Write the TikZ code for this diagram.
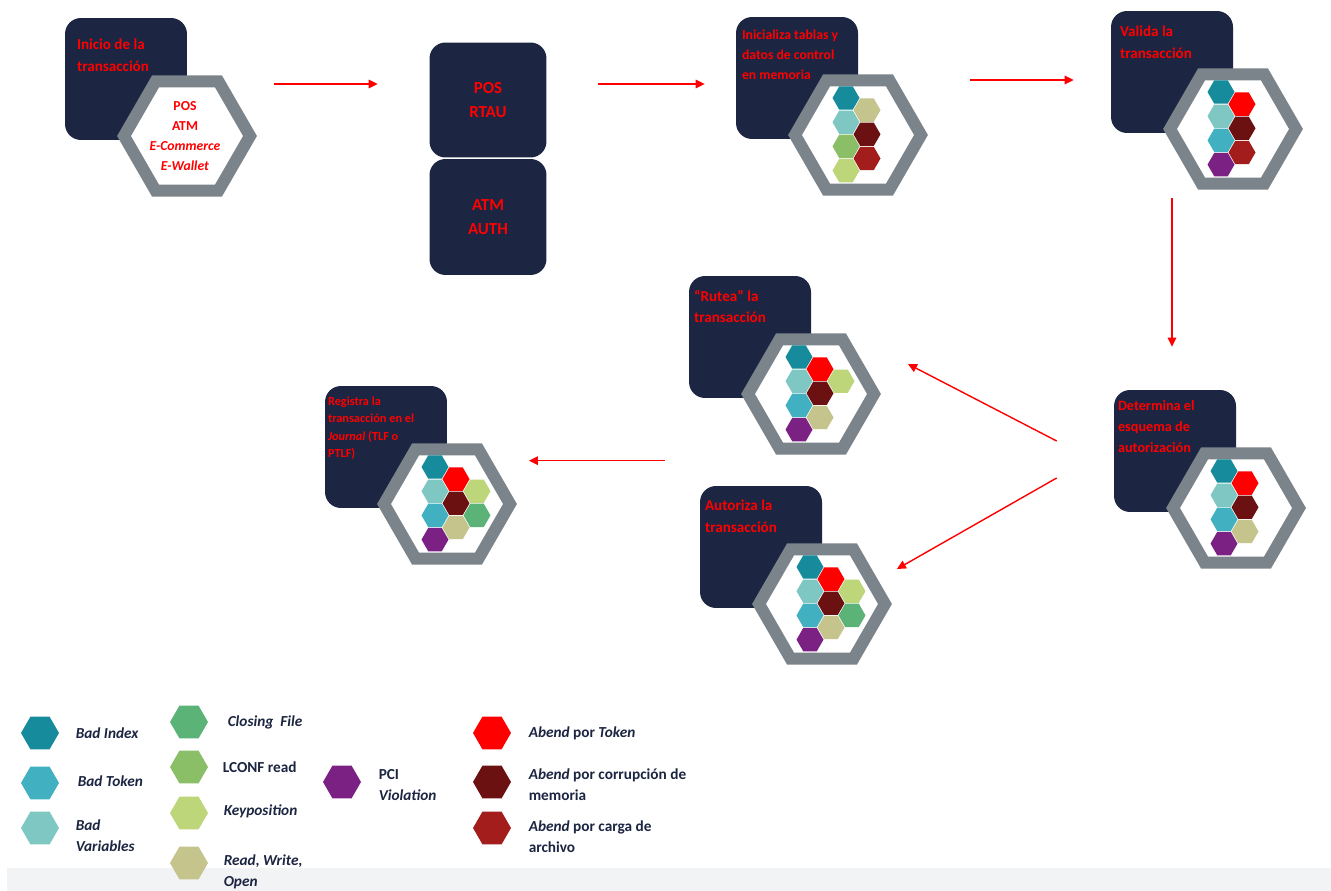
\documentclass[tikz,border=0pt]{standalone}
\usepackage{fontspec}
\setmainfont{Carlito}
\usetikzlibrary{shapes.geometric,arrows.meta,positioning}

\definecolor{navy}{HTML}{1C2541}
\definecolor{ringgray}{HTML}{7B838B}
\definecolor{bandgray}{HTML}{F2F3F5}
\definecolor{bidx}{HTML}{168B9C}
\definecolor{btok}{HTML}{41B1C1}
\definecolor{bvar}{HTML}{7FC7C3}
\definecolor{cfile}{HTML}{5BB377}
\definecolor{lconf}{HTML}{8ABF67}
\definecolor{keypos}{HTML}{BCD679}
\definecolor{rwo}{HTML}{C5C48D}
\definecolor{pci}{HTML}{7B2183}
\definecolor{abtok}{HTML}{FF0000}
\definecolor{abmem}{HTML}{6B1111}
\definecolor{abfile}{HTML}{A41D1D}

\tikzset{
  card/.style={fill=navy, rounded corners=0.32cm, minimum width=2.44cm, minimum height=2.44cm, inner sep=0pt},
  ring/.style={regular polygon, regular polygon sides=6, minimum size=2.52cm, draw=ringgray, line width=0.24cm, fill=white, inner sep=0pt},
  cell/.style={regular polygon, regular polygon sides=6, minimum size=0.54cm, inner sep=0pt},
  legcell/.style={cell, minimum size=0.76cm},
  cardtxt/.style={anchor=north west, inner sep=0pt, align=left, text=red, font=\bfseries\fontsize{8.6}{12.2}\selectfont},
  hextxt/.style={inner sep=0pt, align=center, text=red, font=\bfseries\fontsize{7.8}{11.4}\selectfont},
  legtxt/.style={anchor=west, inner sep=0pt, align=left, text=navy, font=\bfseries\fontsize{8.7}{12}\selectfont},
  flow/.style={red, line width=0.8pt, -{Triangle[length=0.18cm,width=0.17cm]}},
}

\newcommand{\hexcells}[2]{%
  \foreach \c/\r/\k in {#2}
    \node[cell, fill=\k] (#1-\c\r) at ([shift={({\c*21-12},{\r*24.2+mod(\c,2)*12.1-37})}]#1.center) {};
}

\begin{document}
\begin{tikzpicture}[x=0.02cm, y=-0.02cm]
  \useasboundingbox (0,0) rectangle (1331,891);
  \fill[white] (0,0) rectangle (1331,891);
  \fill[bandgray] (7,868) rectangle (1331,891);

  \node[card] (inicio) at (126,79) {};
  \node[ring] (inicio-hex) at ([shift={(61,57)}]inicio.center) {};
  \node[cardtxt] (inicio-txt) at ([shift={(12,21)}]inicio.north west) {Inicio de la\\transacción};
  \node[hextxt] (inicio-list) at ([xshift=-0.04cm]inicio-hex.center) {POS\\ATM\\\textit{E-Commerce}\\\textit{E-Wallet}};

  \node[card, minimum width=2.34cm, minimum height=2.3cm, text=red, align=center, font=\bfseries\fontsize{9.6}{14}\selectfont] (router) at (488,100) {POS\\RTAU};
  \node[card, minimum width=2.34cm, minimum height=2.32cm, text=red, align=center, font=\bfseries\fontsize{9.6}{14}\selectfont] (atm) at (488,217) {ATM\\AUTH};

  \node[card] (inicializa) at (797,78) {};
  \node[ring] (inicializa-hex) at ([shift={(61,57)}]inicializa.center) {};
  \node[cardtxt, font=\bfseries\fontsize{7.8}{11.4}\selectfont] (inicializa-txt) at ([shift={(6,13)}]inicializa.north west) {Inicializa tablas y\\datos de control\\en memoria};
  \hexcells{inicializa-hex}{0/0/bidx,0/1/bvar,0/2/lconf,0/3/keypos,1/0/rwo,1/1/abmem,1/2/abfile}

  \node[card] (valida) at (1172,72) {};
  \node[ring] (valida-hex) at ([shift={(61,57)}]valida.center) {};
  \node[cardtxt] (valida-txt) at ([shift={(9,15)}]valida.north west) {Valida la\\transacción};
  \hexcells{valida-hex}{0/0/bidx,0/1/bvar,0/2/btok,0/3/pci,1/0/abtok,1/1/abmem,1/2/abfile}

  \node[card] (determina) at (1175,451) {};
  \node[ring] (determina-hex) at ([shift={(61,57)}]determina.center) {};
  \node[cardtxt, font=\bfseries\fontsize{8.1}{11.7}\selectfont] (determina-txt) at ([shift={(4,11)}]determina.north west) {Determina el\\esquema de\\autorización};
  \hexcells{determina-hex}{0/0/bidx,0/1/bvar,0/2/btok,0/3/pci,1/0/abtok,1/1/abmem,1/2/rwo}

  \node[card] (rutea) at (750,337) {};
  \node[ring] (rutea-hex) at ([shift={(61,57)}]rutea.center) {};
  \node[cardtxt] (rutea-txt) at ([shift={(5,14)}]rutea.north west) {“Rutea” la\\transacción};
  \hexcells{rutea-hex}{0/0/bidx,0/1/bvar,0/2/btok,0/3/pci,1/0/abtok,1/1/abmem,1/2/rwo,2/1/keypos}

  \node[card] (autoriza) at (761,547) {};
  \node[ring] (autoriza-hex) at ([shift={(61,57)}]autoriza.center) {};
  \node[cardtxt] (autoriza-txt) at ([shift={(5,14)}]autoriza.north west) {Autoriza la\\transacción};
  \hexcells{autoriza-hex}{0/0/bidx,0/1/bvar,0/2/btok,0/3/pci,1/0/abtok,1/1/abmem,1/2/rwo,2/1/keypos,2/2/cfile}

  \node[card] (registra) at (386,447) {};
  \node[ring] (registra-hex) at ([shift={(61,57)}]registra.center) {};
  \node[cardtxt, font=\bfseries\fontsize{7}{10}\selectfont] (registra-txt) at ([shift={(3,10.5)}]registra.north west) {Registra la\\transacción  en el\\\textit{Journal} (TLF o\\PTLF)};
  \hexcells{registra-hex}{0/0/bidx,0/1/bvar,0/2/btok,0/3/pci,1/0/abtok,1/1/abmem,1/2/rwo,2/1/keypos,2/2/cfile}

  \coordinate (row1) at (0,84);
  \coordinate (row2) at (0,80);
  \draw[flow, shorten <=0.34cm, shorten >=1.03cm] (inicio-hex.east |- row1) -- (router.west |- row1);
  \draw[flow, shorten <=1.03cm, shorten >=0.62cm] (router.east |- row1) -- (inicializa.west |- row1);
  \draw[flow, shorten <=0.84cm, shorten >=0.74cm] (inicializa-hex.east |- row2) -- (valida.west |- row2);
  \draw[flow, shorten <=1.3cm, shorten >=0.86cm] (valida.south) -- (valida.south |- determina.north);
  \draw[flow] ([shift={(-57,-10)}]determina.west) -- ([shift={(27,-30)}]rutea-hex.east);
  \draw[flow] ([shift={(-57,27)}]determina.west) -- ([shift={(5,-35)}]autoriza-hex.east);
  \draw[flow, shorten >=0.24cm] ([shift={(-35,-25)}]autoriza.north west) coordinate (a7) -- (a7 -| registra-hex.east);

  \node[legcell, fill=bidx] (leg-bidx) at (40,733) {};
  \node[legtxt, right=0.32cm of leg-bidx] (leg-bidx-txt) {\textit{Bad Index}};
  \node[legcell, fill=btok] (leg-btok) at (40,783) {};
  \node[legtxt, right=0.36cm of leg-btok, yshift=0.04cm] (leg-btok-txt) {\textit{Bad Token}};
  \node[legcell, fill=bvar] (leg-bvar) at (40,828) {};
  \node[legtxt, right=0.32cm of leg-bvar, yshift=-0.15cm] (leg-bvar-txt) {\textit{Bad}\\\textit{Variables}};

  \node[legcell, fill=cfile] (leg-cfile) at (189,722) {};
  \node[legtxt, right=0.38cm of leg-cfile] (leg-cfile-txt) {\textit{Closing\ \ File}};
  \node[legcell, fill=lconf] (leg-lconf) at (189,767) {};
  \node[legtxt, right=0.28cm of leg-lconf] (leg-lconf-txt) {LCONF read};
  \node[legcell, fill=keypos] (leg-keypos) at (189,813) {};
  \node[legtxt, right=0.3cm of leg-keypos, yshift=0.04cm] (leg-keypos-txt) {\textit{Keyposition}};
  \node[legcell, fill=rwo] (leg-rwo) at (189,863) {};
  \node[legtxt, right=0.3cm of leg-rwo, yshift=-0.18cm] (leg-rwo-txt) {\textit{Read, Write,}\\\textit{Open}};

  \node[legcell, fill=pci] (leg-pci) at (342,782) {};
  \node[legtxt, right=0.34cm of leg-pci, yshift=-0.06cm] (leg-pci-txt) {PCI\\\textit{Violation}};

  \node[legcell, fill=abtok] (leg-abtok) at (492,733) {};
  \node[legtxt, right=0.34cm of leg-abtok] (leg-abtok-txt) {\textit{Abend} por \textit{Token}};
  \node[legcell, fill=abmem] (leg-abmem) at (492,782) {};
  \node[legtxt, right=0.34cm of leg-abmem, yshift=-0.05cm] (leg-abmem-txt) {\textit{Abend} por corrupción de\\memoria};
  \node[legcell, fill=abfile] (leg-abfile) at (492,828) {};
  \node[legtxt, right=0.34cm of leg-abfile, yshift=-0.17cm] (leg-abfile-txt) {\textit{Abend} por carga de\\archivo};
\end{tikzpicture}
\end{document}
